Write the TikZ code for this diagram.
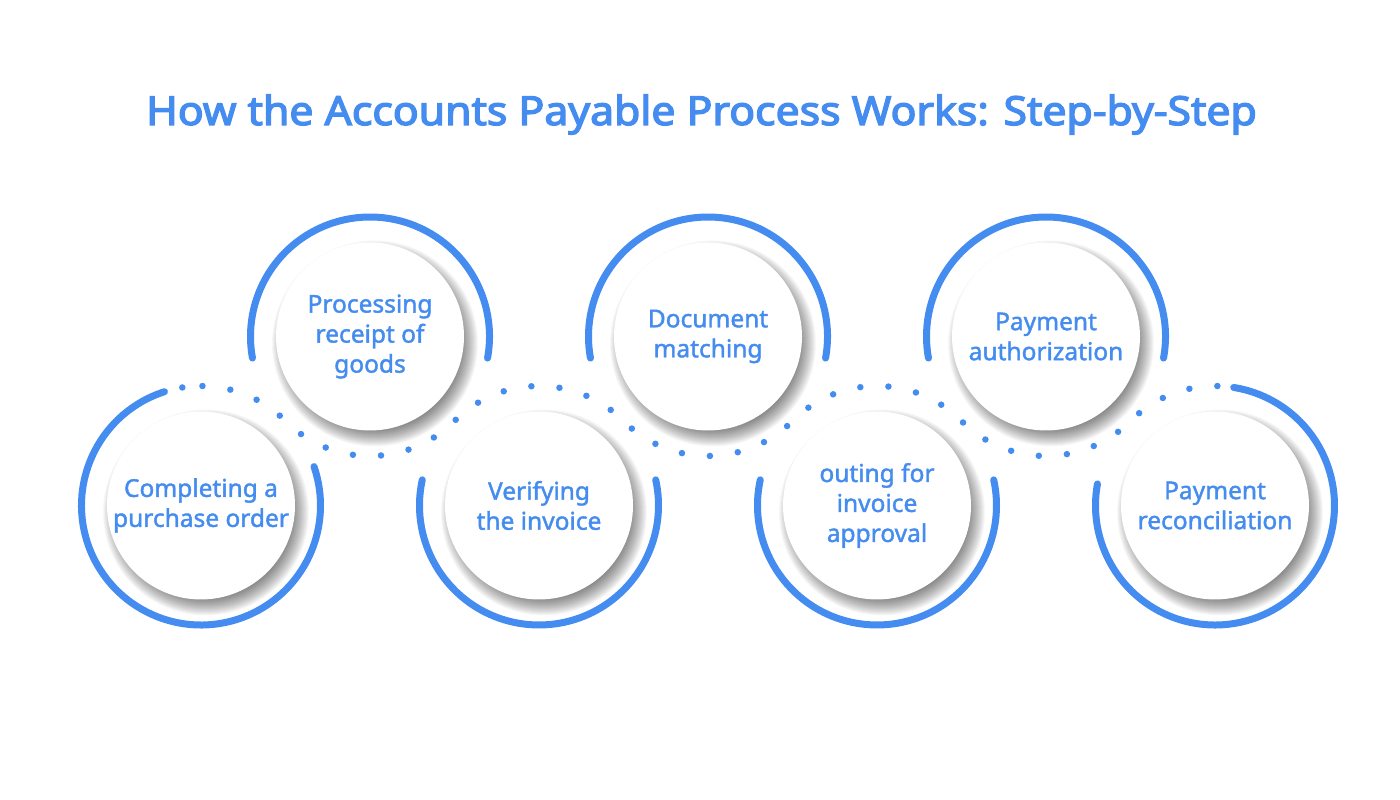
\documentclass[tikz,border=0pt]{standalone}
\usepackage{fontspec}
\setmainfont{Noto Sans}
\newfontfamily\titlefont{Noto Sans}[FakeBold=3.2]
\newfontfamily\labelfont{Noto Sans}[FakeBold=1.6]
\definecolor{apblue}{HTML}{448CEF}
\begin{document}
\begin{tikzpicture}[x=1pt,y=1pt,
  ring/.style={draw=apblue, line width=7pt, line cap=round},
  dotline/.style={draw=apblue, line width=6.5pt, line cap=round, dash pattern=on 0pt off 28.18pt},
  disc/.style={circle, fill=white, minimum size=188pt, inner sep=0pt, text=apblue, align=center,
    font=\labelfont\fontsize{24.5}{30}\selectfont},
  titlestyle/.style={text=apblue, font=\titlefont\fontsize{40}{46}\selectfont, inner sep=0pt, anchor=base},
  shadowlayer/.style={fill=black, opacity=0.03}
]
\useasboundingbox (0,0) rectangle (1400,800);
\fill[white] (0,0) rectangle (1400,800);

% centres
\coordinate (c1) at (201,294.5);
\coordinate (c2) at (370,463.5);
\coordinate (c3) at (539,294.5);
\coordinate (c4) at (708,463.5);
\coordinate (c5) at (877,294.5);
\coordinate (c6) at (1046,463.5);
\coordinate (c7) at (1215,294.5);

% title
\node[titlestyle] (title) at (701.5,675) {\scalebox{1.068}[1]{How the Accounts Payable Process Works: Step-by-Step}};

% soft shadows
\foreach \c in {c1,c2,c3,c4,c5,c6,c7}{
  \foreach \i in {86,...,103}{
    \fill[shadowlayer] ([shift={(5,-7)}]\c) circle[radius=\i];
  }
}

% solid rings
\draw[ring] ([shift={(107.8:119.5)}]c1) arc[start angle=107.8, end angle=379, radius=119.5];
\draw[ring] ([shift={(-10.4:119.5)}]c2) arc[start angle=-10.4, end angle=190.4, radius=119.5];
\draw[ring] ([shift={(167.6:119.5)}]c3) arc[start angle=167.6, end angle=372.4, radius=119.5];
\draw[ring] ([shift={(-10.4:119.5)}]c4) arc[start angle=-10.4, end angle=190.4, radius=119.5];
\draw[ring] ([shift={(167.6:119.5)}]c5) arc[start angle=167.6, end angle=372.4, radius=119.5];
\draw[ring] ([shift={(-10.4:119.5)}]c6) arc[start angle=-10.4, end angle=190.4, radius=119.5];
\draw[ring] ([shift={(169.6:119.5)}]c7) arc[start angle=169.6, end angle=441, radius=119.5];

% dotted connecting path
\draw[dotline] ([shift={(89.3:119.5)}]c1)
  arc[start angle=89.3, end angle=45, radius=119.5]
  arc[start angle=225, end angle=315, radius=119.5]
  arc[start angle=135, end angle=45, radius=119.5]
  arc[start angle=225, end angle=315, radius=119.5]
  arc[start angle=135, end angle=45, radius=119.5]
  arc[start angle=225, end angle=315, radius=119.5]
  arc[start angle=135, end angle=88.8, radius=119.5];
\fill[apblue] ([shift={(99:119.5)}]c1) circle[radius=3.25];

% discs with labels
\node[disc] (n1) at (c1) {Completing a\\purchase order};
\node[disc] (n2) at (c2) {Processing\\receipt of\\goods};
\node[disc] (n3) at (c3) {Verifying\\the invoice};
\node[disc] (n4) at (c4) {Document\\matching};
\node[disc] (n5) at (c5) {outing for\\invoice\\approval};
\node[disc] (n6) at (c6) {Payment\\authorization};
\node[disc] (n7) at (c7) {Payment\\reconciliation};
\end{tikzpicture}
\end{document}
